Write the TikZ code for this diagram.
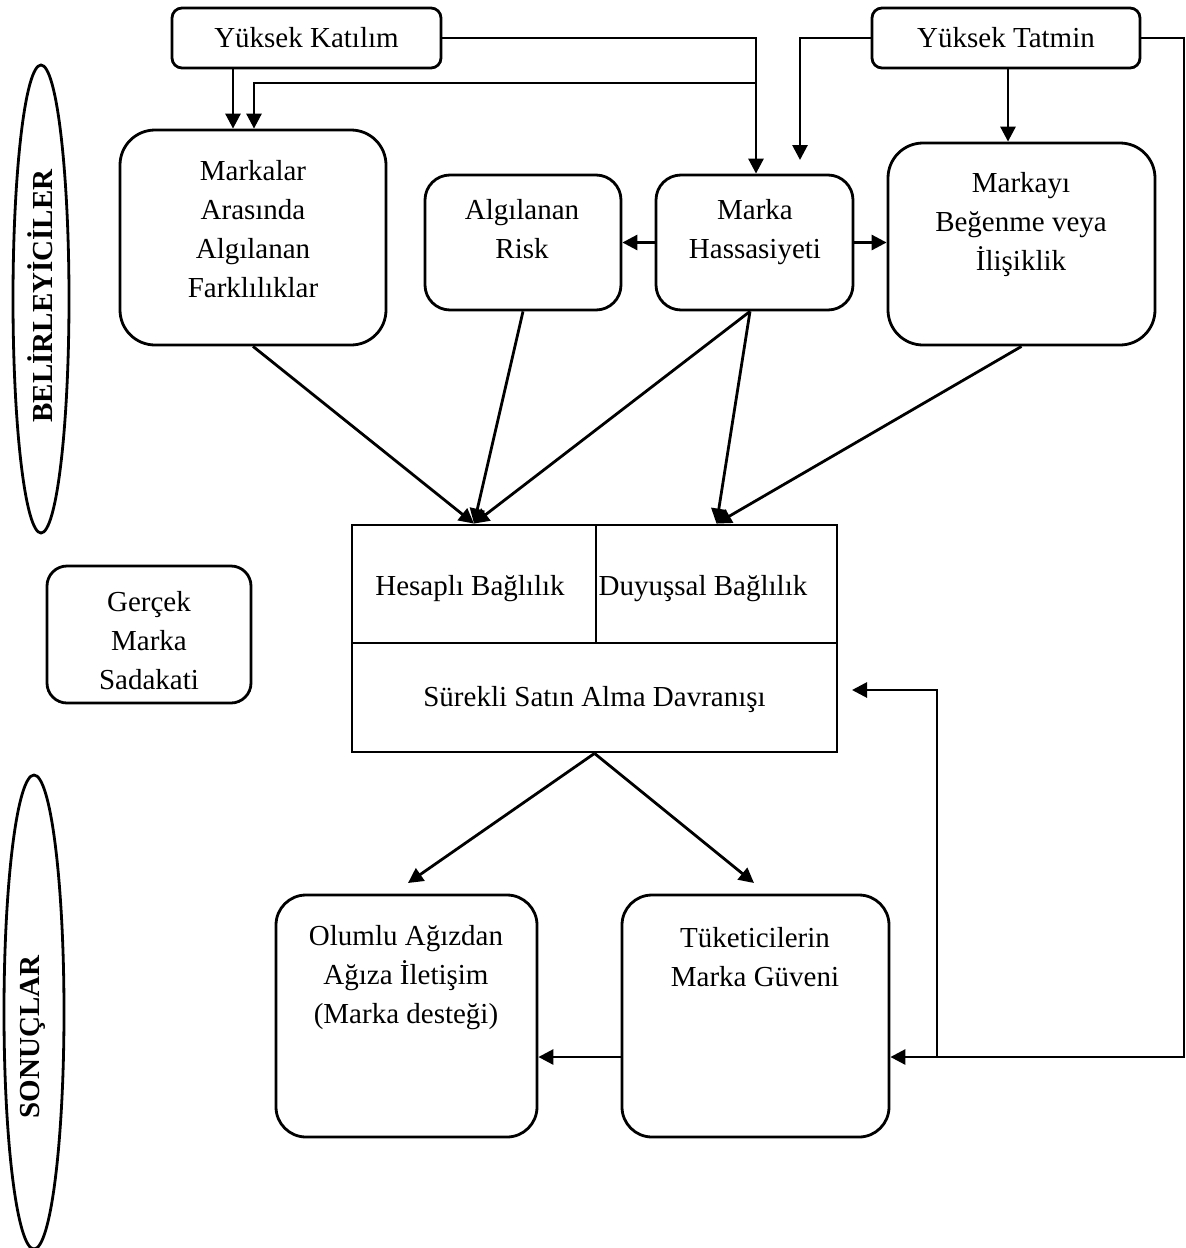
\documentclass[tikz,border=0pt]{standalone}
\usepackage{fontspec}
\setmainfont{Liberation Serif}
\usetikzlibrary{arrows.meta,shapes.geometric}
\begin{document}
\begin{tikzpicture}[x=1pt,y=-1pt,
  every node/.style={inner sep=0pt},
  lw/.style={line width=2.8pt},
  box/.style={draw,lw,rounded corners=#1},
  box/.default=30pt,
  cell/.style={draw,lw},
  txt/.style={align=center,font=\fontsize{29}{39}\selectfont},
  side/.style={rotate=90,font=\fontsize{29}{35}\selectfont\bfseries},
  arr/.style={lw,-{Triangle[length=15pt,width=15pt]}},
  ln/.style={lw}
]
\useasboundingbox (0,0) rectangle (1186,1248);

% side labels
\node[draw,lw,ellipse,minimum width=56,minimum height=468] (e1) at (41,299) {};
\node[side] (t1) at (40,296) {BELİRLEYİCİLER};
\node[draw,lw,ellipse,minimum width=60,minimum height=474] (e2) at (34,1012) {};
\node[side] (t2) at (33,1037) {SONUÇLAR};

% top sources
\node[box=10pt,minimum width=269,minimum height=60,txt] (yk) at (306.5,38) {Yüksek Katılım};
\node[box=10pt,minimum width=268,minimum height=60,txt] (yt) at (1006,38) {Yüksek Tatmin};

% determinants
\node[box=35pt,minimum width=266,minimum height=215] (mar) at (253,237.5) {};
\node[txt] (tmar) at (253,229) {Markalar\\Arasında\\Algılanan\\Farklılıklar};
\node[box=25pt,minimum width=196,minimum height=135] (risk) at (523,242.5) {};
\node[txt] (trisk) at (522,229) {Algılanan\\Risk};
\node[box=25pt,minimum width=197,minimum height=135] (mh) at (754.5,242.5) {};
\node[txt] (tmh) at (755,232) {Marka\\Hassasiyeti};
\node[box=35pt,minimum width=267,minimum height=202] (beg) at (1021.5,244) {};
\node[txt] (tbeg) at (1021,225) {Markayı\\Beğenme veya\\İlişiklik};

% loyalty block
\node[cell,minimum width=244,minimum height=118] (hb) at (474,584) {};
\node[txt] (thb) at (470,589) {Hesaplı Bağlılık};
\node[cell,minimum width=241,minimum height=118] (db) at (716.5,584) {};
\node[txt] (tdb) at (703,589) {Duyuşsal Bağlılık};
\node[cell,minimum width=485,minimum height=109] (ssa) at (594.5,697.5) {};
\node[txt] (tssa) at (594.5,700) {Sürekli Satın Alma Davranışı};

\node[box=20pt,minimum width=204,minimum height=137] (gms) at (149,634.5) {};
\node[txt] (tgms) at (149,641) {Gerçek\\Marka\\Sadakati};

% consequences
\node[box=30pt,minimum width=261,minimum height=242] (olum) at (406.5,1016) {};
\node[txt] (tolum) at (406,978) {Olumlu Ağızdan\\Ağıza İletişim\\(Marka desteği)};
\node[box=30pt,minimum width=267,minimum height=242] (tuk) at (755.5,1016) {};
\node[txt] (ttuk) at (755,957) {Tüketicilerin\\Marka Güveni};

% routing points
\coordinate (xa) at (233,0);
\coordinate (xb) at (254,0);
\coordinate (xc) at (756,0);
\coordinate (yb) at (0,83);
\coordinate (tipT) at (800,160);
\coordinate (xg) at (1008,0);
\coordinate (xe) at (1184,0);
\coordinate (xf) at (937,0);
\coordinate (yl) at (0,1057);
\coordinate (ssaIn) at (852,690);
\coordinate (tipO) at (408,883);
\coordinate (tipK) at (754,883);
\coordinate (xm) at (750,0);

% connectors from the sources
\draw[arr] (yk.south -| xa) -- (mar.north -| xa);
\draw[arr] (yk.east) -| (mh.north -| xc);
\draw[arr] (xc |- yb) -| (mar.north -| xb);
\draw[arr] (yt.west) -| (tipT);
\draw[arr] (yt.south -| xg) -- (beg.north -| xg);
\draw[ln] (yt.east) -| (xe |- yl) -- (xf |- yl);
\draw[arr] (xf |- yl) -- (tuk.east |- yl);
\draw[arr] (xf |- yl) |- (ssaIn);

% between determinants
\draw[arr] (mh.west) -- (risk.east |- mh.west);
\draw[arr] (mh.east) -- (beg.west |- mh.east);

% into the loyalty block
\draw[arr] (mar.south) -- (hb.north);
\draw[arr] (risk.south) -- (hb.north);
\draw[arr] (mh.south -| xm) -- (hb.north);
\draw[arr] (mh.south -| xm) -- (db.north);
\draw[arr] (beg.south) -- (db.north);

% outcomes
\draw[arr] (ssa.south) -- (tipO);
\draw[arr] (ssa.south) -- (tipK);
\draw[arr] (tuk.west |- yl) -- (olum.east |- yl);
\end{tikzpicture}
\end{document}
